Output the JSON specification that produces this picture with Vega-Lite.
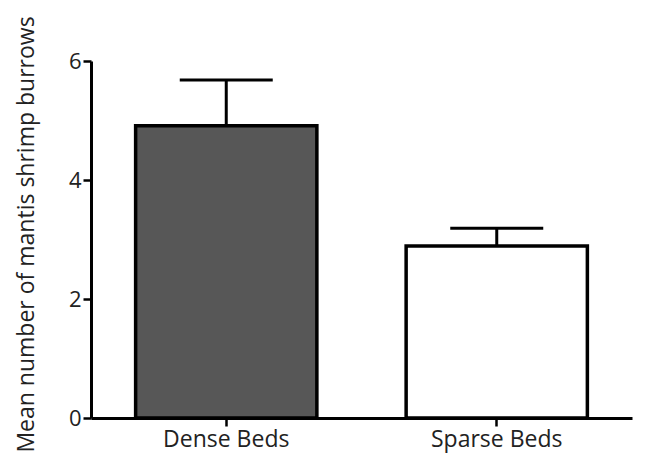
{
  "$schema": "https://vega.github.io/schema/vega-lite/v6.json",
  "description": "Mean number of mantis shrimp burrows in dense vs sparse beds, with error bars",
  "autosize": {"type": "none"},
  "padding": {"left": 91, "top": 61, "right": 18, "bottom": 58},
  "width": 541,
  "height": 357,
  "background": "white",
  "config": {
    "view": {"stroke": null},
    "font": "Open Sans",
    "axis": {
      "domainColor": "black",
      "domainWidth": 3,
      "tickColor": "black",
      "tickWidth": 2.5,
      "tickSize": 8,
      "labelColor": "#222",
      "titleColor": "#222",
      "labelFont": "Open Sans",
      "titleFont": "Open Sans",
      "grid": false
    }
  },
  "data": {
    "values": [
      {"bed": "Dense Beds", "mean": 4.91, "upper": 5.68},
      {"bed": "Sparse Beds", "mean": 2.89, "upper": 3.19}
    ]
  },
  "encoding": {
    "x": {
      "field": "bed",
      "type": "nominal",
      "sort": null,
      "scale": {"paddingInner": 0.33, "paddingOuter": 0.165},
      "axis": {
        "title": null,
        "labelAngle": 0,
        "labelFontSize": 23,
        "labelPadding": 2,
        "domainWidth": 3
      }
    }
  },
  "layer": [
    {
      "mark": {"type": "rule", "strokeWidth": 3, "color": "black"},
      "encoding": {
        "y": {"field": "mean", "type": "quantitative"},
        "y2": {"field": "upper"}
      }
    },
    {
      "mark": {"type": "tick", "size": 93, "thickness": 3, "color": "black", "opacity": 1},
      "encoding": {
        "y": {"field": "upper", "type": "quantitative"}
      }
    },
    {
      "mark": {"type": "bar", "stroke": "black", "strokeWidth": 3.5},
      "encoding": {
        "y": {
          "field": "mean",
          "type": "quantitative",
          "scale": {"domain": [0, 6], "nice": false},
          "axis": {
            "title": "Mean number of mantis shrimp burrows",
            "values": [0, 2, 4, 6],
            "format": "d",
            "labelFontSize": 22,
            "labelPadding": 2,
            "titleFontSize": 23,
            "titleFontWeight": "normal",
            "titleX": -65,
            "titleY": 173,
            "titleBaseline": "middle",
            "titleAnchor": "middle"
          }
        },
        "color": {
          "field": "bed",
          "type": "nominal",
          "scale": {"domain": ["Dense Beds", "Sparse Beds"], "range": ["#575757", "#ffffff"]},
          "legend": null
        }
      }
    }
  ]
}
